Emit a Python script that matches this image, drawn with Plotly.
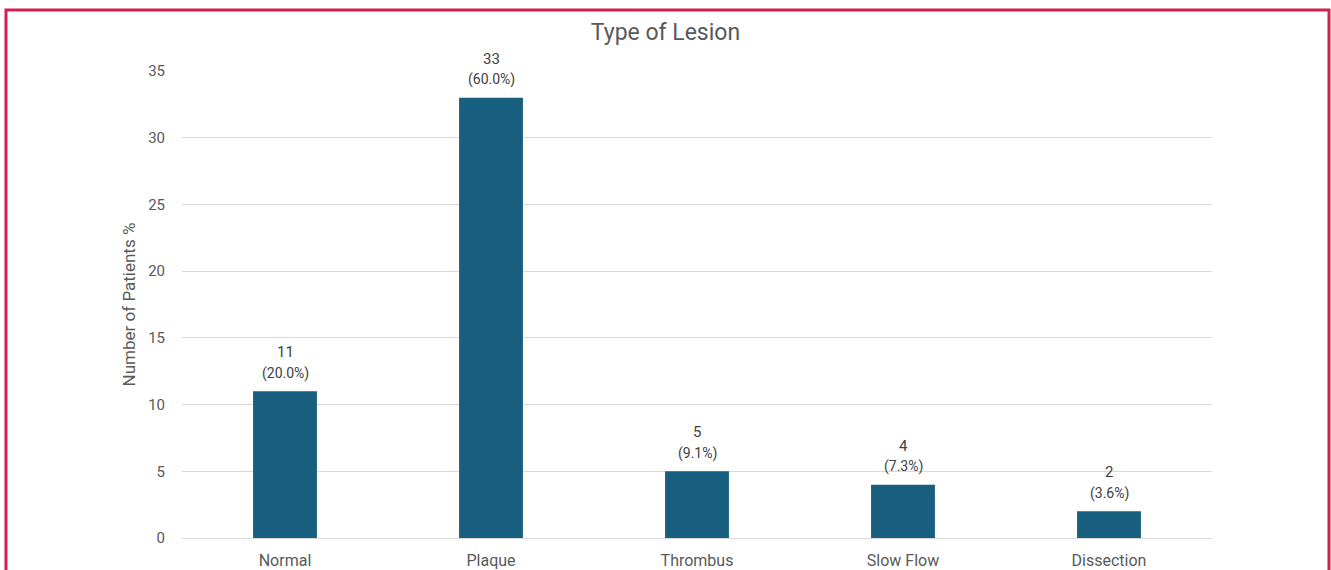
import plotly.graph_objects as go

categories = ["Normal", "Plaque", "Thrombus", "Slow Flow", "Dissection"]
counts = [11, 33, 5, 4, 2]
percent_labels = ["(20.0%)", "(60.0%)", "(9.1%)", "(7.3%)", "(3.6%)"]
y_ticks = [0, 5, 10, 15, 20, 25, 30, 35]

BAR = "#185E7F"
TXT = "#595959"
FONT = "Roboto"

fig = go.Figure()
fig.add_trace(go.Bar(x=categories, y=counts, marker=dict(color=BAR, line=dict(width=0)),
                     hoverinfo="x+y"))

ann = []
for c, v, p in zip(categories, counts, percent_labels):
    ann.append(dict(x=c, y=v, xref="x", yref="y", text=str(v), showarrow=False,
                    yanchor="middle", yshift=39, font=dict(family=FONT, size=15, color="#404040")))
    ann.append(dict(x=c, y=v, xref="x", yref="y", text=p, showarrow=False,
                    yanchor="middle", yshift=18, font=dict(family=FONT, size=14, color="#404040")))

# plot area: l=182, r=1212, t=71, b=538
W, H = 1331, 570
L, R, T, B = 182, 1212, 71, 538
def px(xp): return (xp - L) / (R - L)
def py(yp): return (B - yp) / (B - T)

fig.update_layout(
    width=W, height=H,
    margin=dict(l=L, r=W - R, t=T, b=H - B, autoexpand=False),
    paper_bgcolor="white", plot_bgcolor="white",
    bargap=0.69,
    showlegend=False,
    font=dict(family=FONT, color=TXT),
    title=dict(text="Type of Lesion", x=0.5, xanchor="center", xref="container",
               y=1 - 32 / H, yanchor="middle", yref="container",
               font=dict(family=FONT, size=23, color=TXT)),
    xaxis=dict(showgrid=False, showline=False, zeroline=False, ticks="", automargin=False,
               tickfont=dict(family=FONT, size=16, color=TXT), ticklabelstandoff=11),
    yaxis=dict(range=[0, 35], tickvals=y_ticks, showgrid=True, gridcolor="#D9D9D9",
               gridwidth=1, zeroline=True, zerolinecolor="#D9D9D9", zerolinewidth=1,
               showline=False, ticks="", ticklabelstandoff=16, automargin=False,
               tickfont=dict(family=FONT, size=15, color=TXT),
               title=dict(text="Number of Patients %", standoff=8,
                          font=dict(family=FONT, size=17, color=TXT))),
    annotations=ann,
    shapes=[dict(type="rect", xref="paper", yref="paper",
                 x0=px(6), x1=px(1329), y0=py(590), y1=py(10),
                 line=dict(color="#D21F4E", width=3), fillcolor="rgba(0,0,0,0)",
                 layer="above")],
)

fig.write_html("out.html")
